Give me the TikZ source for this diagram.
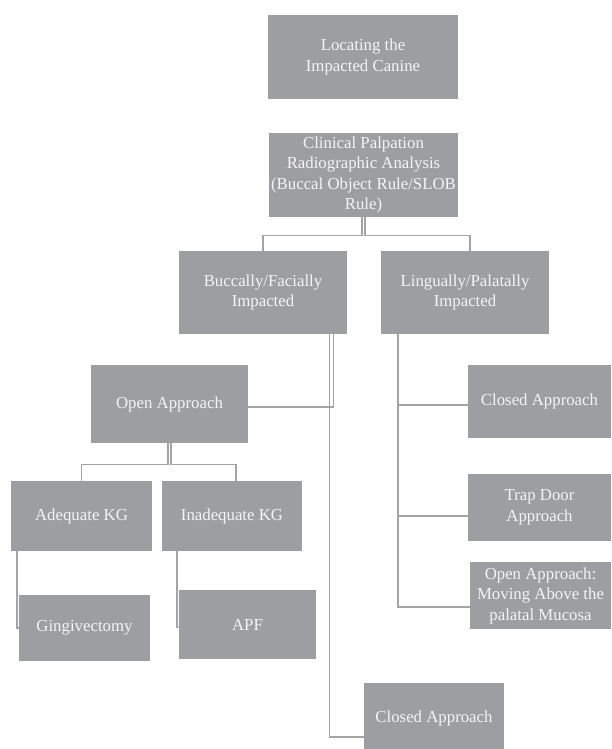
\documentclass[tikz,border=0pt]{standalone}
\usepackage{fontspec}
\setmainfont{Liberation Serif}
\usepackage{tikz}
\usetikzlibrary{positioning, calc}
\usepackage{xcolor}
\definecolor{boxgray}{HTML}{9D9EA2}
\definecolor{boxtext}{HTML}{F4F4F4}
\definecolor{linegray}{HTML}{A4A4A6}

\begin{document}
\begin{tikzpicture}[x=1pt, y=-1pt,
  box/.style={fill=boxgray, text=boxtext, align=center, inner sep=0pt,
    font=\fontsize{16.8}{20.5}\selectfont},
  link/.style={draw=linegray, line width=1.4pt}]
\useasboundingbox (0,0) rectangle (611,749);
\node (loc) [box, minimum width=190pt, minimum height=84pt] at (363,57) {Locating the\\Impacted Canine};
\node (clin) [box, minimum width=189pt, minimum height=84pt] at (363.5,175) {Clinical Palpation\\Radiographic Analysis\\(Buccal Object Rule/SLOB\\Rule)};
\node (bucc) [box, minimum width=168pt, minimum height=83pt] at (263,292.5) {Buccally/Facially\\Impacted};
\node (ling) [box, minimum width=168pt, minimum height=83pt] at (465,292.5) {Lingually/Palatally\\Impacted};
\node (open) [box, minimum width=157pt, minimum height=78pt] at (169.5,404) {Open Approach};
\node (adeq) [box, minimum width=141pt, minimum height=70pt] at (81.5,516) {Adequate KG};
\node (inadeq) [box, minimum width=140pt, minimum height=70pt] at (232,516) {Inadequate KG};
\node (ging) [box, minimum width=131pt, minimum height=66pt] at (84.5,628) {Gingivectomy};
\node (apf) [box, minimum width=137pt, minimum height=69pt] at (247.5,624.5) {APF};
\node (closedb) [box, minimum width=140pt, minimum height=70pt] at (434,718) {Closed Approach};
\node (closedr) [box, minimum width=143pt, minimum height=73pt] at (539.5,401.5) {Closed Approach};
\node (trap) [box, minimum width=143pt, minimum height=67pt] at (539.5,507.5) {Trap Door\\Approach};
\node (openp) [box, minimum width=141pt, minimum height=67pt] at (540.5,595.5) {Open Approach:\\Moving Above the\\palatal Mucosa};
% clinical -> buccal / lingual
\draw[link] ([xshift=-1.5pt]clin.south) -- ++(0,18) -| (bucc.north);
\draw[link] ([xshift=1.5pt]clin.south) -- ++(0,18) -| ([xshift=5pt]ling.north);
% buccal side
\draw[link] ([xshift=-14pt]bucc.south east) |- ([yshift=-3pt]open.east);
\draw[link] ([xshift=-17.5pt]bucc.south east) |- ([yshift=-19pt]closedb.west);
\draw[link] ([xshift=-1.5pt]open.south) -- ++(0,21) -| (adeq.north);
\draw[link] ([xshift=1.5pt]open.south) -- ++(0,21) -| ([xshift=4pt]inadeq.north);
\draw[link] ([xshift=6pt]adeq.south west) |- (ging.west);
\draw[link] ([xshift=15pt]inadeq.south west) |- ([yshift=-3pt]apf.west);
% lingual side
\draw[link] ([xshift=17pt]ling.south west) |- ([yshift=-3.5pt]closedr.west);
\draw[link] ([xshift=17pt]ling.south west) |- ([yshift=-8.5pt]trap.west);
\draw[link] ([xshift=17pt]ling.south west) |- ([yshift=-11.5pt]openp.west);
\end{tikzpicture}
\end{document}
